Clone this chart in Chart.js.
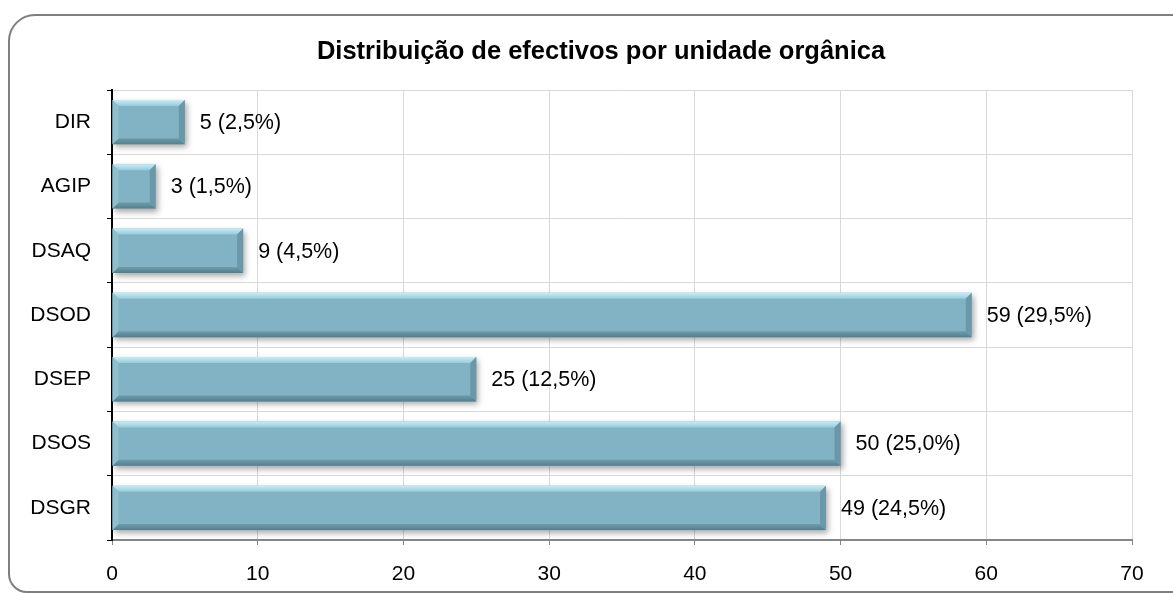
<!DOCTYPE html>
<html>
<head>
<meta charset="utf-8">
<script src="https://cdn.jsdelivr.net/npm/chart.js@4.4.1/dist/chart.umd.min.js"></script>
<style>
html,body{margin:0;padding:0;background:#fff;}
#wrap{position:relative;width:1173px;height:594px;}
</style>
</head>
<body>
<div id="wrap"><canvas id="c" width="1173" height="594"></canvas></div>
<script>
const titleText = "Distribuição de efectivos por unidade orgânica";
const categories = ["DIR", "AGIP", "DSAQ", "DSOD", "DSEP", "DSOS", "DSGR"];
const values = [5, 3, 9, 59, 25, 50, 49];
const xTicks = [0, 10, 20, 30, 40, 50, 60, 70];

const total = values.reduce((a, b) => a + b, 0);
const labelFor = v => v + " (" + (v / total * 100).toFixed(1).replace(".", ",") + "%)";

const FONT = "'Liberation Sans', Arial, sans-serif";

const framePlugin = {
  id: "frame",
  beforeDraw(chart) {
    const ctx = chart.ctx;
    ctx.save();
    ctx.strokeStyle = "#7f7f7f";
    ctx.lineWidth = 2;
    const x0 = 9, y0 = 15, x1 = 1195, y1 = 592, r = 26, rb = 18;
    ctx.beginPath();
    ctx.moveTo(x1, y0);
    ctx.lineTo(x0 + r, y0);
    ctx.arcTo(x0, y0, x0, y0 + r, r);
    ctx.lineTo(x0, y1 - rb);
    ctx.arcTo(x0, y1, x0 + rb, y1, rb);
    ctx.lineTo(x1, y1);
    ctx.stroke();
    ctx.fillStyle = "#000";
    ctx.font = "bold 25.5px " + FONT;
    ctx.textAlign = "center";
    ctx.textBaseline = "middle";
    ctx.fillText(titleText, 601, 52);
    ctx.restore();
  }
};

const barShadowPlugin = {
  id: "barShadow",
  beforeDatasetsDraw(chart) {
    const ctx = chart.ctx;
    ctx.save();
    ctx.shadowColor = "rgba(0,0,0,0.35)";
    ctx.shadowBlur = 6;
    ctx.shadowOffsetX = 2;
    ctx.shadowOffsetY = 3;
  },
  afterDatasetsDraw(chart) {
    const ctx = chart.ctx;
    ctx.restore();
    const meta = chart.getDatasetMeta(0);
    meta.data.forEach((bar, i) => {
      const p = bar.getProps(["x", "y", "base", "height"], true);
      const left = Math.min(p.base, p.x), right = Math.max(p.base, p.x);
      const top = p.y - p.height / 2, bot = p.y + p.height / 2;
      const b = 6;
      ctx.save();
      let g = ctx.createLinearGradient(0, top, 0, top + b);
      g.addColorStop(0, "#c6ecf6");
      g.addColorStop(1, "#98cad9");
      ctx.fillStyle = g;
      ctx.beginPath();
      ctx.moveTo(left, top); ctx.lineTo(right, top);
      ctx.lineTo(right - b, top + b); ctx.lineTo(left + b, top + b);
      ctx.closePath(); ctx.fill();
      g = ctx.createLinearGradient(0, bot - b, 0, bot);
      g.addColorStop(0, "#6f9cab");
      g.addColorStop(1, "#557e8c");
      ctx.fillStyle = g;
      ctx.beginPath();
      ctx.moveTo(left, bot); ctx.lineTo(right, bot);
      ctx.lineTo(right - b, bot - b); ctx.lineTo(left + b, bot - b);
      ctx.closePath(); ctx.fill();
      ctx.fillStyle = "#8dbfcf";
      ctx.beginPath();
      ctx.moveTo(left, top); ctx.lineTo(left + b, top + b);
      ctx.lineTo(left + b, bot - b); ctx.lineTo(left, bot);
      ctx.closePath(); ctx.fill();
      ctx.fillStyle = "#6a98a8";
      ctx.beginPath();
      ctx.moveTo(right, top); ctx.lineTo(right - b, top + b);
      ctx.lineTo(right - b, bot - b); ctx.lineTo(right, bot);
      ctx.closePath(); ctx.fill();
      ctx.fillStyle = "#000";
      ctx.font = "21.5px " + FONT;
      ctx.textAlign = "left";
      ctx.textBaseline = "middle";
      ctx.fillText(labelFor(values[i]), right + 15, p.y + 1);
      ctx.restore();
    });
  }
};

new Chart(document.getElementById("c"), {
  type: "bar",
  data: {
    labels: categories,
    datasets: [{
      data: values,
      backgroundColor: "#82b3c4",
      borderWidth: 0,
      barPercentage: 0.69,
      categoryPercentage: 1.0
    }]
  },
  options: {
    indexAxis: "y",
    responsive: false,
    animation: false,
    devicePixelRatio: 1,
    layout: { padding: { top: 90, right: 41, bottom: 0, left: 0 } },
    plugins: {
      legend: { display: false },
      tooltip: { enabled: false },
      title: { display: false }
    },
    scales: {
      x: {
        min: 0, max: 70,
        afterFit(s) { s.height = 54; },
        afterBuildTicks(s) { s.ticks = xTicks.map(v => ({ value: v })); },
        grid: { color: "#d9d9d9", tickColor: "#868686", tickLength: 5, lineWidth: 1 },
        border: { color: "#868686", width: 2 },
        ticks: { color: "#000", font: { family: FONT, size: 21 }, padding: 17, maxRotation: 0 }
      },
      y: {
        afterFit(s) { s.width = 112; },
        grid: { color: "#d9d9d9", tickColor: "#000", tickLength: 5, offset: true },
        border: { color: "#000", width: 2 },
        ticks: { color: "#000", font: { family: FONT, size: 21 }, padding: 16 }
      }
    }
  },
  plugins: [framePlugin, barShadowPlugin]
});
</script>
</body>
</html>
